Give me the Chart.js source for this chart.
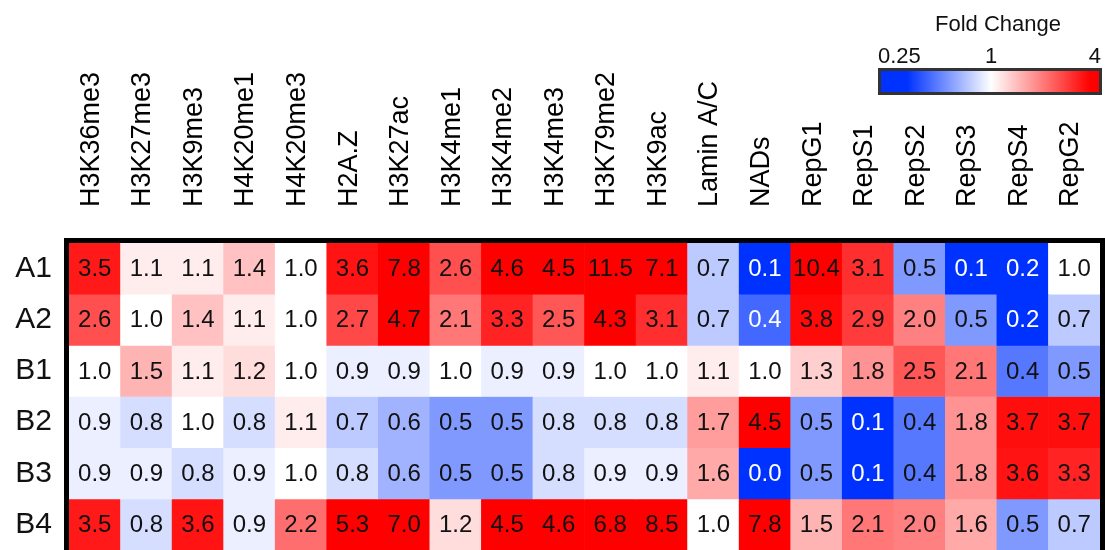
<!DOCTYPE html>
<html>
<head>
<meta charset="utf-8">
<title>Fold Change</title>
<script src="https://cdn.jsdelivr.net/npm/chart.js@4/dist/chart.umd.min.js"></script>
<style>
  html, body { margin: 0; padding: 0; background: #fff; }
  #wrap { width: 1105px; height: 550px; position: relative; }
</style>
</head>
<body>
<div id="wrap"><canvas id="heatmap"></canvas></div>
<script>
// Marks / replication timing (columns) and samples (rows)
const columns = ['H3K36me3', 'H3K27me3', 'H3K9me3', 'H4K20me1', 'H4K20me3', 'H2A.Z', 'H3K27ac',
  'H3K4me1', 'H3K4me2', 'H3K4me3', 'H3K79me2', 'H3K9ac', 'Lamin A/C', 'NADs',
  'RepG1', 'RepS1', 'RepS2', 'RepS3', 'RepS4', 'RepG2'];
const rows = ['A1', 'A2', 'B1', 'B2', 'B3', 'B4'];

// Fold change values, one array per row
const rowA1 = [3.5, 1.1, 1.1, 1.4, 1.0, 3.6, 7.8, 2.6, 4.6, 4.5, 11.5, 7.1, 0.7, 0.1, 10.4, 3.1, 0.5, 0.1, 0.2, 1.0];
const rowA2 = [2.6, 1.0, 1.4, 1.1, 1.0, 2.7, 4.7, 2.1, 3.3, 2.5, 4.3, 3.1, 0.7, 0.36, 3.8, 2.9, 2.0, 0.5, 0.2, 0.7];
const rowB1 = [1.0, 1.5, 1.1, 1.2, 1.0, 0.9, 0.9, 1.0, 0.9, 0.9, 1.0, 1.0, 1.1, 1.0, 1.3, 1.8, 2.5, 2.1, 0.4, 0.5];
const rowB2 = [0.9, 0.8, 1.0, 0.8, 1.1, 0.7, 0.6, 0.5, 0.5, 0.8, 0.8, 0.8, 1.7, 4.5, 0.5, 0.1, 0.4, 1.8, 3.7, 3.7];
const rowB3 = [0.9, 0.9, 0.8, 0.9, 1.0, 0.8, 0.6, 0.5, 0.5, 0.8, 0.9, 0.9, 1.6, 0.0, 0.5, 0.1, 0.4, 1.8, 3.6, 3.3];
const rowB4 = [3.5, 0.8, 3.6, 0.9, 2.2, 5.3, 7.0, 1.2, 4.5, 4.6, 6.8, 8.5, 1.0, 7.8, 1.5, 2.1, 2.0, 1.6, 0.5, 0.7];
const values = [rowA1, rowA2, rowB1, rowB2, rowB3, rowB4];

// Colour scale limits (log scale)
const scaleMin = 0.25;
const scaleMax = 4;
const legendTicks = ['0.25', '1', '4'];

const BLUE = [0, 50, 255];
const RED = [255, 0, 0];

function scalePos(v) {
  const t = Math.log(Math.max(v, 1e-6)) / Math.log(scaleMax);
  return Math.max(-1, Math.min(1, t));
}

function colorFor(v) {
  const t = scalePos(v);
  const end = t < 0 ? BLUE : RED;
  const k = Math.abs(t);
  const c = end.map(e => Math.round(255 + (e - 255) * k));
  return `rgb(${c[0]}, ${c[1]}, ${c[2]})`;
}

const datasets = rows.map((name, i) => ({
  label: name,
  data: values[i].map(() => [i, i + 1]),
  backgroundColor: values[i].map(colorFor),
  borderWidth: 0,
  barPercentage: 1,
  categoryPercentage: 1,
  grouped: false
}));

// value text in each cell + frame around the grid
const cellText = {
  id: 'cellText',
  afterDatasetsDraw(chart) {
    const ctx = chart.ctx;
    ctx.save();
    ctx.font = '24px "Liberation Sans", Arial, sans-serif';
    ctx.textAlign = 'center';
    ctx.textBaseline = 'middle';
    chart.data.datasets.forEach((ds, i) => {
      chart.getDatasetMeta(i).data.forEach((bar, j) => {
        const v = values[i][j];
        const p = bar.getProps(['x', 'y', 'base'], true);
        ctx.fillStyle = scalePos(v) < -0.7 ? '#fff' : '#111';
        ctx.fillText(v.toFixed(1), p.x, (p.y + p.base) / 2 + 1);
      });
    });
    const a = chart.chartArea;
    ctx.strokeStyle = '#000';
    ctx.lineWidth = 5;
    ctx.strokeRect(a.left - 2.5, a.top - 2.5, a.right - a.left + 5, a.bottom - a.top + 5);
    ctx.restore();
  }
};

// colour bar legend, top right
const colorBar = {
  id: 'colorBar',
  afterDraw(chart) {
    const ctx = chart.ctx;
    const x0 = 881, x1 = 1099, y0 = 71, y1 = 92;
    ctx.save();
    const g = ctx.createLinearGradient(x0, 0, x1, 0);
    g.addColorStop(0, colorFor(scaleMin / 2));
    g.addColorStop(0.12, colorFor(scaleMin));
    g.addColorStop(0.505, colorFor(1));
    g.addColorStop(0.96, colorFor(scaleMax));
    g.addColorStop(1, colorFor(scaleMax * 2));
    ctx.fillStyle = g;
    ctx.fillRect(x0, y0, x1 - x0, y1 - y0);
    ctx.strokeStyle = '#333';
    ctx.lineWidth = 3;
    ctx.strokeRect(x0 - 1.5, y0 - 1.5, x1 - x0 + 3, y1 - y0 + 3);

    ctx.fillStyle = '#111';
    ctx.textBaseline = 'alphabetic';
    ctx.textAlign = 'center';
    ctx.font = '22px "Liberation Sans", Arial, sans-serif';
    ctx.fillText('Fold Change', 998, 31);
    ctx.textAlign = 'left';
    ctx.fillText(legendTicks[0], 878, 63);
    ctx.textAlign = 'center';
    ctx.fillText(legendTicks[1], 991, 63);
    ctx.textAlign = 'right';
    ctx.fillText(legendTicks[2], 1101, 63);
    ctx.restore();
  }
};

new Chart(document.getElementById('heatmap'), {
  type: 'bar',
  data: { labels: columns, datasets: datasets },
  options: {
    responsive: true,
    maintainAspectRatio: false,
    animation: false,
    layout: { padding: { top: 0, right: 5, bottom: 0, left: 0 } },
    plugins: {
      legend: { display: false },
      tooltip: { enabled: false }
    },
    scales: {
      x: {
        type: 'category',
        position: 'top',
        offset: true,
        grid: { display: false, drawTicks: false },
        border: { display: false },
        ticks: {
          autoSkip: false,
          minRotation: 90,
          maxRotation: 90,
          padding: 36,
          labelOffset: 29,
          color: '#000',
          font: { family: '"Liberation Sans", Arial, sans-serif', size: 27 }
        },
        afterFit: s => {
          s.height = 243;
          s.paddingLeft = 0;
          s.paddingRight = 0;
        }
      },
      y: {
        type: 'linear',
        display: false,
        min: 0,
        max: rows.length,
        reverse: true
      },
      rowAxis: {
        type: 'category',
        labels: rows,
        position: 'left',
        offset: true,
        grid: { display: false, drawTicks: false },
        border: { display: false },
        ticks: {
          padding: 17,
          color: '#111',
          font: { family: '"Liberation Sans", Arial, sans-serif', size: 30 }
        },
        afterFit: s => {
          s.width = 69;
          s.paddingTop = 0;
          s.paddingBottom = 0;
        }
      }
    }
  },
  plugins: [cellText, colorBar]
});
</script>
</body>
</html>
